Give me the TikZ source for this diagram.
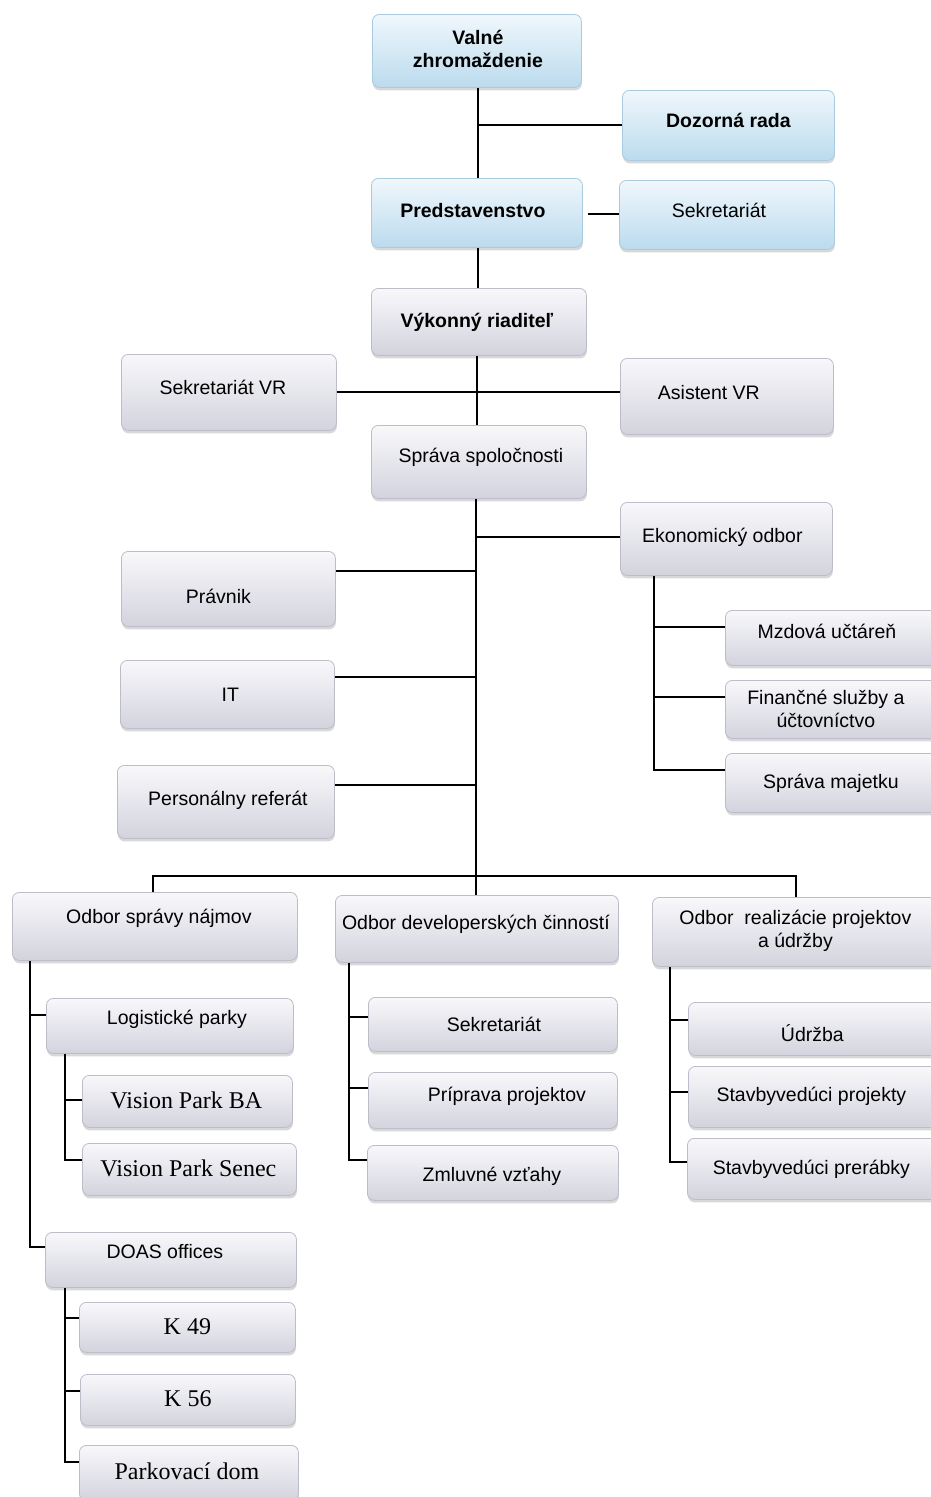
\documentclass[tikz,border=0pt]{standalone}
\usepackage{fontspec}
\setmainfont{Liberation Sans}
\newfontfamily\serifx{Liberation Serif}
\usetikzlibrary{shadows}
\definecolor{gtop}{HTML}{F8F8FB}
\definecolor{gbot}{HTML}{D3D3DE}
\definecolor{gbord}{HTML}{BDBDC9}
\definecolor{btop}{HTML}{F0F7FC}
\definecolor{bbot}{HTML}{BBDBEE}
\definecolor{bbord}{HTML}{A9CBE0}
\tikzset{
  base/.style={rectangle, rounded corners=7pt, anchor=north west,
    line width=0.8pt, inner sep=0pt,
    drop shadow={shadow xshift=0.5pt, shadow yshift=-3pt, opacity=0.25, fill=black!60}},
  gbox/.style={base, draw=gbord, top color=gtop, bottom color=gbot},
  bbox/.style={base, draw=bbord, top color=btop, bottom color=bbot},
  gboxb/.style={gbox}, gboxs/.style={gbox}, bboxb/.style={bbox},
  txt/.style={align=center, inner sep=0pt, text=black, font=\fontsize{19.5}{23}\selectfont},
  gbox text/.style={txt}, bbox text/.style={txt},
  gboxb text/.style={txt, font=\fontsize{19.5}{23}\selectfont\bfseries},
  bboxb text/.style={txt, font=\fontsize{19.5}{23}\selectfont\bfseries},
  gboxs text/.style={txt, font=\fontsize{24}{28}\selectfont\serifx},
  conn/.style={draw=black, line width=1.4pt}
}
% #1 style, #2 name, #3 x, #4 y, #5 w, #6 h, #7 dx, #8 dy, #9 text
\newcommand\bx[9]{%
  \node[#1, minimum width=#5pt, minimum height=#6pt] (#2) at (#3,#4) {};
  \node[#1 text] (#2-t) at ([shift={(#7,#8)}]#2.center) {#9};}
\begin{document}
\begin{tikzpicture}[x=1pt,y=-1pt]
\clip (0,0) rectangle (931,1497);
\fill[white] (0,0) rectangle (931,1497);
% top
\bx{bboxb}{vz}{372}{14}{209}{73}{1}{-2}{Valné\\zhromaždenie}
\bx{bboxb}{doz}{622}{90}{212}{70}{0}{-5}{Dozorná rada}
\bx{bboxb}{pred}{371}{178}{211}{69}{-4}{-2}{Predstavenstvo}
\bx{bbox}{sek1}{619}{180}{215}{69}{-8}{-4}{Sekretariát}
\bx{gboxb}{vr}{371}{288}{215}{67}{-2}{0}{Výkonný riaditeľ}
\bx{gbox}{svr}{121}{354}{215}{76}{-6}{-5}{Sekretariát VR}
\bx{gbox}{asvr}{620}{358}{213}{76}{-18}{-4}{Asistent VR}
\bx{gbox}{spr}{371}{425}{215}{73}{2}{-5}{Správa spoločnosti}
\bx{gbox}{ek}{620}{502}{212}{73}{-4}{-2}{Ekonomický odbor}
\bx{gbox}{prav}{121}{551}{214}{75}{-10}{8}{Právnik}
\bx{gbox}{it}{120}{660}{214}{68}{3}{0}{IT}
\bx{gbox}{pers}{117}{765}{217}{73}{2}{-2}{Personálny referát}
\bx{gbox}{mz}{725}{610}{215}{55}{-6}{-6}{Mzdová učtáreň}
\bx{gbox}{fin}{725}{680}{215}{58}{-7}{0}{Finančné služby a\\účtovníctvo}
\bx{gbox}{sm}{725}{753}{215}{59}{-2}{0}{Správa majetku}
% departments
\bx{gbox}{osn}{12}{892}{285}{68}{4}{-8}{Odbor správy nájmov}
\bx{gbox}{odc}{335}{895}{283}{67}{-1}{-5}{Odbor developerských činností}
\bx{gbox}{orp}{652}{897}{290}{69}{-2}{-1}{Odbor\ \ realizácie projektov\\a údržby}
% left branch
\bx{gbox}{lp}{46}{998}{247}{55}{7}{-7}{Logistické parky}
\bx{gboxs}{vpba}{82}{1075}{210}{52}{-1}{-1}{Vision Park BA}
\bx{gboxs}{vps}{82}{1143}{214}{52}{-1}{-1}{Vision Park Senec}
\bx{gbox}{doas}{45}{1232}{251}{55}{-6}{-8}{DOAS offices}
\bx{gboxs}{k49}{79}{1302}{216}{50}{0}{-1}{K 49}
\bx{gboxs}{k56}{80}{1374}{215}{51}{0}{-1}{K 56}
\bx{gboxs}{pd}{79}{1445}{219}{55}{-2}{-2}{Parkovací dom}
% middle branch
\bx{gbox}{sek2}{368}{997}{249}{54}{1}{0}{Sekretariát}
\bx{gbox}{pp}{368}{1072}{249}{56}{14}{-4}{Príprava projektov}
\bx{gbox}{zv}{367}{1145}{251}{55}{-1}{3}{Zmluvné vzťahy}
% right branch
\bx{gbox}{ud}{688}{1002}{250}{53}{-1}{4}{Údržba}
\bx{gbox}{spj}{688}{1066}{250}{61}{-2}{-1}{Stavbyvedúci projekty}
\bx{gbox}{spb}{687}{1138}{250}{61}{-1}{0}{Stavbyvedúci prerábky}
% connectors top
\draw[conn] (vz.south -| 478,0) -- (pred.north -| 478,0);
\draw[conn] (478,125) -- (doz.west |- 0,125);
\draw[conn] ([xshift=5pt]pred.east |- 0,214) -- (sek1.west |- 0,214);
\draw[conn] (pred.south -| 478,0) -- (vr.north -| 478,0);
\draw[conn] (vr.south -| 477,0) -- (spr.north -| 477,0);
\draw[conn] (svr.east |- 0,392) -- (asvr.west |- 0,392);
\coordinate (bus) at (476,876);
\draw[conn] (spr.south -| bus) -- (bus);
\draw[conn] (bus |- 0,537) -- (ek.west |- 0,537);
\draw[conn] (prav.east |- 0,571) -- (bus |- 0,571);
\draw[conn] (it.east |- 0,677) -- (bus |- 0,677);
\draw[conn] (pers.east |- 0,785) -- (bus |- 0,785);
% ekonomicky
\coordinate (ekb) at (654,770);
\draw[conn] (ek.south -| ekb) -- (ekb) -- (sm.west |- ekb);
\draw[conn] (ekb |- 0,627) -- (mz.west |- 0,627);
\draw[conn] (ekb |- 0,697) -- (fin.west |- 0,697);
% bus
\draw[conn] (osn.north -| 153,0) -- (153,876) -- (796,876) -- (orp.north -| 796,0);
\draw[conn] (bus) -- (odc.north -| bus);
% odbor spravy najmov
\coordinate (osb) at (30,1247);
\draw[conn] (osn.south -| osb) -- (osb) -- (doas.west |- osb);
\draw[conn] (osb |- 0,1015) -- (lp.west |- 0,1015);
\coordinate (lpb) at (65,1160);
\draw[conn] (lp.south -| lpb) -- (lpb) -- (vps.west |- lpb);
\draw[conn] (lpb |- 0,1100) -- (vpba.west |- 0,1100);
\coordinate (dob) at (65,1462);
\draw[conn] (doas.south -| dob) -- (dob) -- (pd.west |- dob);
\draw[conn] (dob |- 0,1318) -- (k49.west |- 0,1318);
\draw[conn] (dob |- 0,1391) -- (k56.west |- 0,1391);
% developerske
\coordinate (dvb) at (349,1160);
\draw[conn] (odc.south -| dvb) -- (dvb) -- (zv.west |- dvb);
\draw[conn] (dvb |- 0,1017) -- (sek2.west |- 0,1017);
\draw[conn] (dvb |- 0,1088) -- (pp.west |- 0,1088);
% realizacie
\coordinate (rpb) at (670,1162);
\draw[conn] (orp.south -| rpb) -- (rpb) -- (spb.west |- rpb);
\draw[conn] (rpb |- 0,1020) -- (ud.west |- 0,1020);
\draw[conn] (rpb |- 0,1092) -- (spj.west |- 0,1092);
\end{tikzpicture}
\end{document}
